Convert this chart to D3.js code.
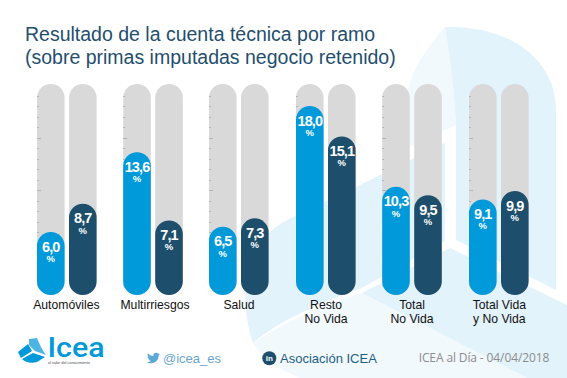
<!DOCTYPE html>
<html><head><meta charset="utf-8"><style>html,body{margin:0;background:#fff}svg{display:block}text{font-family:"Liberation Sans",Arial,sans-serif}</style>
<script src="https://cdn.jsdelivr.net/npm/d3@7"></script></head><body><script>
const categories=[["Automóviles"],["Multirriesgos"],["Salud"],["Resto","No Vida"],["Total","No Vida"],["Total Vida","y No Vida"]];
const seriesA=[6.0,13.6,6.5,18.0,10.3,9.1];
const seriesB=[8.7,7.1,7.3,15.1,9.5,9.9];
const titleLines=["Resultado de la cuenta técnica por ramo","(sobre primas imputadas negocio retenido)"];
const trackTicks=d3.range(1,20);
const W=567,H=378;
const svg=d3.select("body").append("svg").attr("width",W).attr("height",H);
// background
const PALE="#e3f3fb",LIGHT="#f2f9fd";
const bg=svg.append("g");
bg.append("path").attr("d","M445 27C425 50 412 70 408 90L408 147L456 125L452 70Z").attr("fill",LIGHT);
bg.append("path").attr("d","M445 27C510 25 556 60 556 110L556 290L456 240L456 125C454 90 450 55 445 27Z").attr("fill",PALE);
bg.append("path").attr("d","M356 187L445 143L445 241L362 288C320 303 280 320 253 343C238 300 245 245 283 222Z").attr("fill",PALE);
bg.append("path").attr("d","M253 343C280 325 320 305 362 293L527 378L300 378C280 370 262 358 253 343Z").attr("fill",LIGHT);
bg.append("path").attr("d","M362 293L450 248L567 305L567 378L527 378Z").attr("fill",PALE);
const x0=d3.scaleOrdinal().domain(d3.range(6)).range([37,123.2,209,296,382.2,469]);
const labelX=d3.scaleOrdinal().domain(d3.range(6)).range([66.4,155,239,326,412,499.3]);
const bandW=27.6,gap=32;
const y=d3.scaleLinear().domain([0,20]).range([295,85]);
svg.append("g").selectAll("text").data(titleLines).join("text").attr("x",25).attr("y",(d,i)=>40.5+i*23).attr("font-size",19.5).attr("fill","#1f4e6e").text(d=>d);
const g=svg.append("g").selectAll("g").data(categories).join("g").attr("transform",(d,i)=>`translate(${x0(i)},0)`);
g.each(function(c,i){
 const s=d3.select(this);
 [0,1].forEach(k=>{
  const x=k*gap, v=k?seriesB[i]:seriesA[i], col=k?"#1d4e6b":"#0099da";
  s.append("rect").attr("x",x).attr("y",84).attr("width",bandW).attr("height",211).attr("rx",bandW/2).attr("fill","#d9d9d9");
  if(!k) s.selectAll("line.t").data(trackTicks).join("line").attr("x1",0).attr("x2",d=>d%5==0?4:2).attr("y1",d=>Math.round(y(d))+.5).attr("y2",d=>Math.round(y(d))+.5).attr("stroke","#b5b5b5").attr("stroke-width",1);
  s.append("rect").attr("x",x).attr("y",y(v)).attr("width",bandW).attr("height",295-y(v)).attr("rx",bandW/2).attr("fill",col);
  s.append("text").attr("x",x+bandW/2).attr("y",y(v)+19.5).attr("text-anchor","middle").attr("font-size",14.5).attr("letter-spacing",-0.9).attr("font-weight",700).attr("fill","#fff").text(d3.format(".1f")(v).replace(".",","));
  s.append("text").attr("x",x+bandW/2).attr("y",y(v)+30).attr("text-anchor","middle").attr("font-size",9.5).attr("font-weight",700).attr("fill","#fff").text("%");
 });
 c.forEach((l,j)=>svg.append("text").attr("x",labelX(i)).attr("y",308.8+j*14.6).attr("text-anchor","middle").attr("font-size",12.2).attr("fill","#111").text(l));
});
// footer
const logo=svg.append("g");
logo.append("path").attr("d","M29 339L37 338C40 345 42 350 46 355L35 351L29 345Z").attr("fill","#4db5e6");
logo.append("path").attr("d","M18 352L28 344L32 351L21 358Z").attr("fill","#0099da");
logo.append("path").attr("d","M22 359L33 353L45 357L37 362C31 364 25 362 22 359Z").attr("fill","#0099da");
svg.append("text").attr("x",47.5).attr("y",357).attr("font-size",28).attr("font-weight",500).attr("fill","#0099da").attr("textLength",57).attr("lengthAdjust","spacingAndGlyphs").style("font-family","Roboto").text("Icea");
svg.append("text").attr("x",48).attr("y",363.5).attr("font-size",4).attr("fill","#555").attr("textLength",42).text("el valor del conocimiento");
svg.append("path").attr("transform","translate(147,351.5) scale(.54)").attr("d","M23.95 4.57a10 10 0 0 1-2.82.77 4.96 4.96 0 0 0 2.16-2.72c-.95.56-2 .96-3.12 1.19a4.92 4.92 0 0 0-8.38 4.48C7.69 8.1 4.07 6.13 1.64 3.16a4.82 4.82 0 0 0-.67 2.47c0 1.71.87 3.21 2.19 4.1a4.9 4.9 0 0 1-2.23-.61v.06c0 2.38 1.69 4.37 3.95 4.83a5 5 0 0 1-2.21.08 4.94 4.94 0 0 0 4.6 3.42A9.87 9.87 0 0 1 0 19.54a13.94 13.94 0 0 0 7.55 2.21c9.05 0 14-7.5 14-13.98 0-.21 0-.42-.02-.63a9.94 9.94 0 0 0 2.46-2.55z").attr("fill","#5ba7d8");
svg.append("text").attr("x",163).attr("y",362.5).attr("font-size",13).attr("fill","#6aa6cf").text("@icea_es");
svg.append("circle").attr("cx",269.3).attr("cy",358.3).attr("r",7).attr("fill","#1d4e6b");
svg.append("text").attr("x",269.3).attr("y",361.3).attr("text-anchor","middle").attr("font-size",8).attr("font-weight",700).attr("fill","#fff").text("in");
svg.append("text").attr("x",280).attr("y",362.5).attr("font-size",13).attr("fill","#1d5f80").text("Asociación ICEA");
svg.append("text").attr("x",418.7).attr("y",362).attr("font-size",12).attr("fill","#8c8c8c").attr("textLength",130.6).style("font-family","Open Sans").text("ICEA al Día - 04/04/2018");
</script></body></html>
